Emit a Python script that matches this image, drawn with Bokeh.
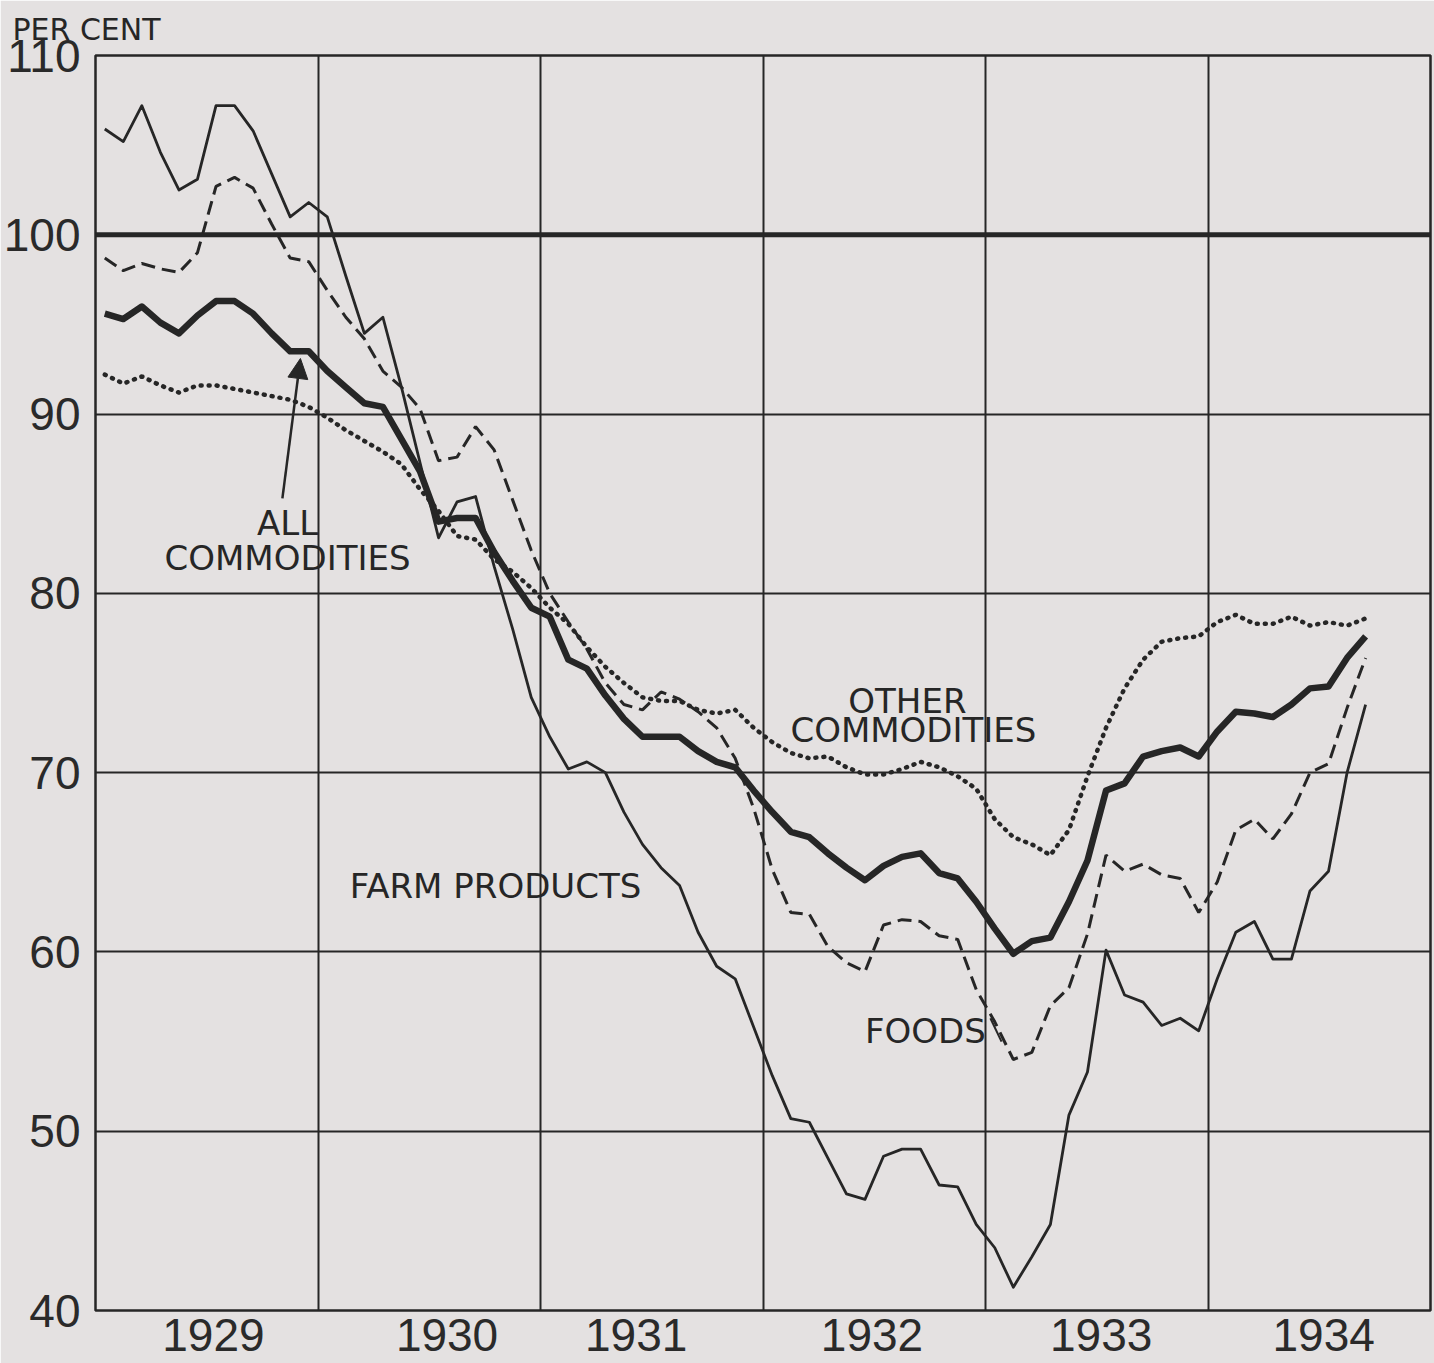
from bokeh.plotting import figure
from bokeh.models import FixedTicker, Span, Label, Arrow, NormalHead, ColumnDataSource, LinearAxis
from bokeh.embed import file_html
from bokeh.resources import INLINE

# ---------------- data (monthly, Jan 1929 - Sep 1934, 1926 = 100) ----------------
year_labels = ["1929", "1930", "1931", "1932", "1933", "1934"]
y_ticks = [40, 50, 60, 70, 80, 90, 100, 110]

farm_products = [
    105.9, 105.2, 107.2, 104.6, 102.5, 103.1, 107.2, 107.2, 105.8, 103.4, 101.0, 101.8,
    101.0, 97.7, 94.5, 95.4, 91.5, 87.3, 83.1, 85.1, 85.4, 81.5, 78.0, 74.2,
    72.0, 70.2, 70.6, 70.0, 67.8, 66.0, 64.7, 63.7, 61.1, 59.2, 58.5, 55.8,
    53.1, 50.7, 50.5, 48.5, 46.5, 46.2, 48.6, 49.0, 49.0, 47.0, 46.9, 44.8,
    43.5, 41.3, 43.0, 44.8, 50.9, 53.3, 60.1, 57.6, 57.2, 55.9, 56.3, 55.6,
    58.5, 61.1, 61.7, 59.6, 59.6, 63.4, 64.5, 70.0, 73.8,
]
foods = [
    98.7, 98.0, 98.4, 98.1, 97.9, 99.0, 102.7, 103.2, 102.6, 100.6, 98.7, 98.5,
    96.9, 95.4, 94.2, 92.4, 91.5, 90.3, 87.4, 87.6, 89.3, 88.0, 85.2, 82.4,
    80.0, 78.4, 76.9, 75.0, 73.8, 73.5, 74.5, 74.1, 73.4, 72.5, 70.8, 68.0,
    64.6, 62.2, 62.1, 60.3, 59.4, 58.9, 61.5, 61.8, 61.7, 60.9, 60.7, 57.9,
    56.1, 54.0, 54.4, 57.0, 58.0, 61.0, 65.4, 64.5, 64.9, 64.3, 64.1, 62.2,
    63.9, 66.8, 67.4, 66.3, 67.7, 70.0, 70.5, 73.6, 76.4,
]
all_commodities = [
    95.6, 95.3, 96.0, 95.1, 94.5, 95.5, 96.3, 96.3, 95.6, 94.5, 93.5, 93.5,
    92.4, 91.5, 90.6, 90.4, 88.6, 86.8, 84.0, 84.2, 84.2, 82.3, 80.7, 79.2,
    78.7, 76.3, 75.8, 74.3, 73.0, 72.0, 72.0, 72.0, 71.2, 70.6, 70.3, 69.0,
    67.8, 66.7, 66.4, 65.5, 64.7, 64.0, 64.8, 65.3, 65.5, 64.4, 64.1, 62.8,
    61.3, 59.9, 60.6, 60.8, 62.8, 65.1, 69.0, 69.4, 70.9, 71.2, 71.4, 70.9,
    72.3, 73.4, 73.3, 73.1, 73.8, 74.7, 74.8, 76.4, 77.6,
]
other_commodities = [
    92.2, 91.7, 92.1, 91.6, 91.2, 91.6, 91.6, 91.4, 91.2, 91.0, 90.8, 90.4,
    89.8, 89.1, 88.5, 87.9, 87.2, 85.8, 84.6, 83.2, 83.0, 81.9, 81.2, 80.3,
    79.2, 78.3, 77.0, 75.9, 75.0, 74.2, 74.0, 74.0, 73.5, 73.3, 73.5, 72.5,
    71.7, 71.1, 70.8, 70.9, 70.3, 69.9, 69.9, 70.2, 70.6, 70.3, 69.8, 69.1,
    67.4, 66.4, 66.0, 65.4, 66.8, 69.8, 72.5, 74.7, 76.3, 77.3, 77.5, 77.6,
    78.4, 78.8, 78.3, 78.3, 78.7, 78.2, 78.4, 78.2, 78.6,
]

# ---------------- derived x positions (mid-month) ----------------
first_year = 1929
x = [first_year + (m + 0.5) / 12 for m in range(len(all_commodities))]
src = ColumnDataSource(dict(x=x, farm=farm_products, foods=foods,
                            allc=all_commodities, other=other_commodities))

BG = "#e4e1e1"
INK = "#262626"
FONT = "DejaVu Sans"
NUMFONT = "Liberation Sans"

p = figure(width=1434, height=1363,
           x_range=(1929, 1935), y_range=(40, 110),
           output_backend="svg", toolbar_location=None,
           min_border_left=95, min_border_top=55, min_border_right=4, min_border_bottom=53)
p.background_fill_color = BG
p.border_fill_color = BG
p.outline_line_color = INK
p.outline_line_width = 2.5

# title "PER CENT"
p.title.text = "PER CENT"
p.title.text_font = FONT
p.title.text_font_size = "30px"
p.title.text_font_style = "normal"
p.title.text_color = INK
p.title.align = "left"
p.title.offset = -83
p.title.standoff = 10

bottom_axis = p.below[0]
left_axis = p.left[0]

# invisible spacer between title and frame (lifts the title a little)
spacer_ticks = [1932.0]
spacer = LinearAxis(ticker=FixedTicker(ticks=spacer_ticks), axis_line_color=None,
                    major_tick_line_color=None, minor_tick_line_color=None,
                    major_tick_out=4, major_tick_in=0, minor_tick_out=0,
                    major_label_text_font_size="1px", major_label_text_alpha=0.0,
                    major_label_standoff=0,
                    major_label_overrides={t: " " for t in spacer_ticks})
p.add_layout(spacer, "above")

# axes
label_pos = [1929.53, 1930.58, 1931.43, 1932.49, 1933.52, 1934.52]
bottom_axis.ticker = FixedTicker(ticks=label_pos)
bottom_axis.major_label_overrides = {pos: lab for pos, lab in zip(label_pos, year_labels)}
left_axis.ticker = FixedTicker(ticks=y_ticks)
for ax in (bottom_axis, left_axis):
    ax.axis_line_color = None
    ax.major_tick_line_color = None
    ax.minor_tick_line_color = None
    ax.major_label_text_font = NUMFONT
    ax.major_label_text_font_size = "46px"
    ax.major_label_text_color = "#2a2a2a"
left_axis.major_label_standoff = 9
bottom_axis.major_label_standoff = 2

p.xgrid.ticker = FixedTicker(ticks=[1930, 1931, 1932, 1933, 1934])
p.ygrid.ticker = FixedTicker(ticks=[50, 60, 70, 80, 90])
for g in (p.xgrid, p.ygrid):
    g.grid_line_color = INK
    g.grid_line_width = 2
    g.grid_line_alpha = 1.0

p.add_layout(Span(location=100, dimension="width", line_color=INK, line_width=5))

# series
p.line("x", "other", source=src, line_color=INK, line_width=4.5, line_dash="1 7", line_cap="round")
p.line("x", "foods", source=src, line_color=INK, line_width=3, line_dash="14 7")
p.line("x", "farm", source=src, line_color=INK, line_width=2.8, line_join="round")
p.line("x", "allc", source=src, line_color=INK, line_width=6.5, line_join="round")

def lab(xv, yv, text, size="34px", align="center", baseline="middle", font=FONT):
    p.add_layout(Label(x=xv, y=yv, text=text, text_font=font, text_font_size=size,
                       text_color=INK, text_align=align, text_baseline=baseline))

lab(1929.863, 83.9, "ALL")
lab(1929.863, 82.0, "COMMODITIES")
lab(1930.798, 63.7, "FARM PRODUCTS")
lab(1932.649, 74.0, "OTHER")
lab(1932.676, 72.4, "COMMODITIES")
lab(1932.730, 55.6, "FOODS")

p.add_layout(Arrow(end=NormalHead(size=20, fill_color=INK, line_color=INK),
                   x_start=1929.840, y_start=85.3, x_end=1929.921, y_end=93.1,
                   line_color=INK, line_width=2.5))
p.segment(x0=[1933.022], y0=[56.3], x1=[1933.072], y1=[55.0], line_color=INK, line_width=2)

open("out.html", "w").write(file_html(p, INLINE))
